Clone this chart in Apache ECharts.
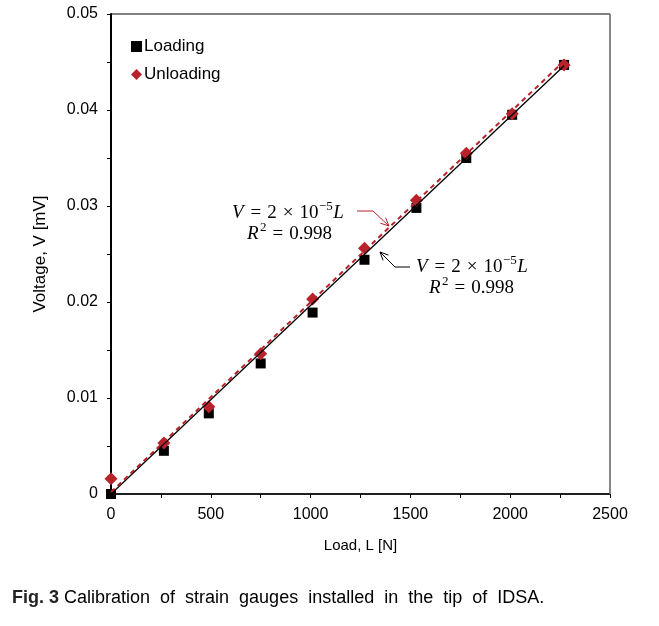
<!DOCTYPE html>
<html>
<head>
<meta charset="utf-8">
<script src="https://cdn.jsdelivr.net/npm/echarts@6/dist/echarts.min.js"></script>
<style>html,body{margin:0;padding:0;background:#fff}#c{width:659px;height:626px}</style>
</head>
<body>
<div id="c"></div>
<script>
// ---- data ----
var loadingX = [0, 265, 490, 750, 1010, 1270, 1530, 1780, 2010, 2270];
var loadingV = [0, 0.0045, 0.0084, 0.0136, 0.0189, 0.0244, 0.0298, 0.0350, 0.0395, 0.0447];
var unloadingX = [0, 265, 490, 750, 1010, 1270, 1530, 1780, 2010, 2270];
var unloadingV = [0.0016, 0.0053, 0.0091, 0.0146, 0.0203, 0.0256, 0.0306, 0.0355, 0.0396, 0.0447];
var loadingTrend = [[0, 0], [2270, 0.0446]];
var unloadingTrend = [[0, 0.0002], [2270, 0.0451]];
var xTicks = [0, 500, 1000, 1500, 2000, 2500];
var yTicks = [0, 0.01, 0.02, 0.03, 0.04, 0.05];
var seriesNames = ['Loading', 'Unloading'];
var eqSlope = ['V', '=', '2', '×', '10', '−5', 'L'];
var eqR2 = ['R', '2', '=', '0.998'];
var caption = 'Fig. 3 Calibration of strain gauges installed in the tip of IDSA.';

function pairs(xs, ys) { return xs.map(function (x, i) { return [x, ys[i]]; }); }

var RED = '#B8232B';
var chart = echarts.init(document.getElementById('c'));

var axisFont = { fontFamily: 'Liberation Sans', fontSize: 16, color: '#000' };

var option = {
  animation: false,
  grid: { left: 111, right: 49, top: 14, bottom: 132, show: true, borderColor: '#000', borderWidth: 1 },
  legend: {
    orient: 'vertical', left: 126, top: 33, itemGap: 11, itemWidth: 11, itemHeight: 11,
    textStyle: { fontFamily: 'Liberation Sans', fontSize: 17, color: '#000', padding: [0, 0, 0, -3] },
    data: [
      { name: seriesNames[0], icon: 'rect', itemStyle: { color: '#000' } },
      { name: seriesNames[1], icon: 'diamond', itemStyle: { color: RED } }
    ]
  },
  xAxis: {
    type: 'value', min: xTicks[0], max: xTicks[xTicks.length - 1], interval: 500,
    name: 'Load, L [N]', nameLocation: 'middle', nameGap: 44,
    nameTextStyle: { fontFamily: 'Liberation Sans', fontSize: 15, color: '#000' },
    axisLine: { show: true, lineStyle: { color: '#000', width: 1.5 } },
    axisTick: { show: true, inside: false, length: 4, lineStyle: { color: '#000' } },
    minorTick: { show: true, splitNumber: 2, length: 4, lineStyle: { color: '#000' } },
    splitLine: { show: false },
    axisLabel: Object.assign({ margin: 13, formatter: function (v) { return String(v); } }, axisFont)
  },
  yAxis: {
    type: 'value', min: yTicks[0], max: yTicks[yTicks.length - 1], interval: 0.01,
    name: 'Voltage, V [mV]', nameLocation: 'middle', nameGap: 62, nameRotate: 90,
    nameTextStyle: { fontFamily: 'Liberation Sans', fontSize: 17, color: '#000' },
    axisLine: { show: true, lineStyle: { color: '#000', width: 2 } },
    axisTick: { show: true, inside: false, length: 4, lineStyle: { color: '#000' } },
    minorTick: { show: true, splitNumber: 2, length: 4, lineStyle: { color: '#000' } },
    splitLine: { show: false },
    axisLabel: Object.assign({ margin: 13, formatter: function (v) { return v === 0 ? '0' : v.toFixed(2); } }, axisFont)
  },
  series: [
    { name: seriesNames[0], type: 'scatter', symbol: 'rect', symbolSize: 10, z: 2,
      itemStyle: { color: '#000', opacity: 1 }, data: pairs(loadingX, loadingV) },
    { name: seriesNames[1], type: 'scatter', symbol: 'diamond', symbolSize: 13, z: 3,
      itemStyle: { color: RED, opacity: 1 }, data: pairs(unloadingX, unloadingV) },
    { name: 'loadingTrend', type: 'line', data: loadingTrend, showSymbol: false, symbol: 'none', z: 4,
      lineStyle: { color: '#000', width: 1.3 }, silent: true },
    { name: 'unloadingTrend', type: 'line', data: unloadingTrend, showSymbol: false, symbol: 'none', z: 5,
      lineStyle: { color: RED, width: 2, type: [5, 4] }, silent: true }
  ]
};
chart.setOption(option);

// ---- annotations ----
var ctx = document.createElement('canvas').getContext('2d');
function measure(t, font) { ctx.font = font; return ctx.measureText(t).width; }
var SERIF = '"Liberation Serif"';
var BASE = 19, SUP = 13, GAP = 6;

function eqPieces(x, yc, pieces) {
  var out = [], cx = x;
  pieces.forEach(function (p) {
    var font = (p.k === 'i' ? 'italic ' : '') + (p.k === 's' ? SUP : BASE) + 'px ' + SERIF;
    cx += p.g || 0;
    out.push({ type: 'text', x: cx, y: p.k === 's' ? yc - 6 : yc, z: 10,
      style: { text: p.t, font: font, fill: '#000', verticalAlign: 'middle', align: 'left' } });
    cx += measure(p.t, font) + (p.k === 'i' ? 1 : 0);
  });
  return out;
}
function line1(x, yc) {
  return eqPieces(x, yc, [
    { t: eqSlope[0], k: 'i' }, { t: eqSlope[1], k: 'n', g: GAP }, { t: eqSlope[2], k: 'n', g: GAP },
    { t: eqSlope[3], k: 'n', g: GAP }, { t: eqSlope[4], k: 'n', g: GAP }, { t: eqSlope[5], k: 's', g: 0.5 },
    { t: eqSlope[6], k: 'i', g: 0.5 }
  ]);
}
function line2(x, yc) {
  return eqPieces(x, yc, [
    { t: eqR2[0], k: 'i' }, { t: eqR2[1], k: 's', g: 0.5 }, { t: eqR2[2], k: 'n', g: GAP },
    { t: eqR2[3], k: 'n', g: GAP }
  ]);
}

function arrowHead(tip, from, len, color) {
  var dx = tip[0] - from[0], dy = tip[1] - from[1];
  var d = Math.sqrt(dx * dx + dy * dy); var ux = -dx / d, uy = -dy / d;
  var a = 25 * Math.PI / 180, c = Math.cos(a), s = Math.sin(a);
  var w1 = [tip[0] + len * (ux * c - uy * s), tip[1] + len * (ux * s + uy * c)];
  var w2 = [tip[0] + len * (ux * c + uy * s), tip[1] + len * (-ux * s + uy * c)];
  return { type: 'polyline', shape: { points: [w1, tip, w2] }, style: { stroke: color, fill: null, lineWidth: 1 }, z: 10 };
}

var g = [];
g = g.concat(line1(232, 213), line2(247, 234));
g.push({ type: 'polyline', shape: { points: [[357, 211], [373, 211], [389, 226]] }, style: { stroke: RED, fill: null, lineWidth: 1 }, z: 10 });
g.push(arrowHead([389, 226], [373, 211], 9, RED));
g = g.concat(line1(416, 267), line2(429, 288));
g.push({ type: 'polyline', shape: { points: [[410, 267], [395, 267], [380, 252]] }, style: { stroke: '#000', fill: null, lineWidth: 1 }, z: 10 });
g.push(arrowHead([380, 252], [395, 267], 9, '#000'));
// right border grey
g.push({ type: 'line', shape: { x1: 610, y1: 14, x2: 610, y2: 494 }, style: { stroke: '#888', lineWidth: 1.5 }, z: 10 });
// caption
var capParts = caption.split(' ');
g.push({ type: 'text', x: 12, y: 598, z: 10, style: {
  text: '{b|' + capParts[0] + ' ' + capParts[1] + '} ' + capParts.slice(2).join('  '),
  fill: '#000', font: '18px "Liberation Sans"', verticalAlign: 'middle',
  rich: { b: { fontFamily: 'Liberation Sans', fontSize: 18, fontWeight: 'bold', fill: '#222' } } } });

chart.setOption({ graphic: g });
</script>
</body>
</html>
